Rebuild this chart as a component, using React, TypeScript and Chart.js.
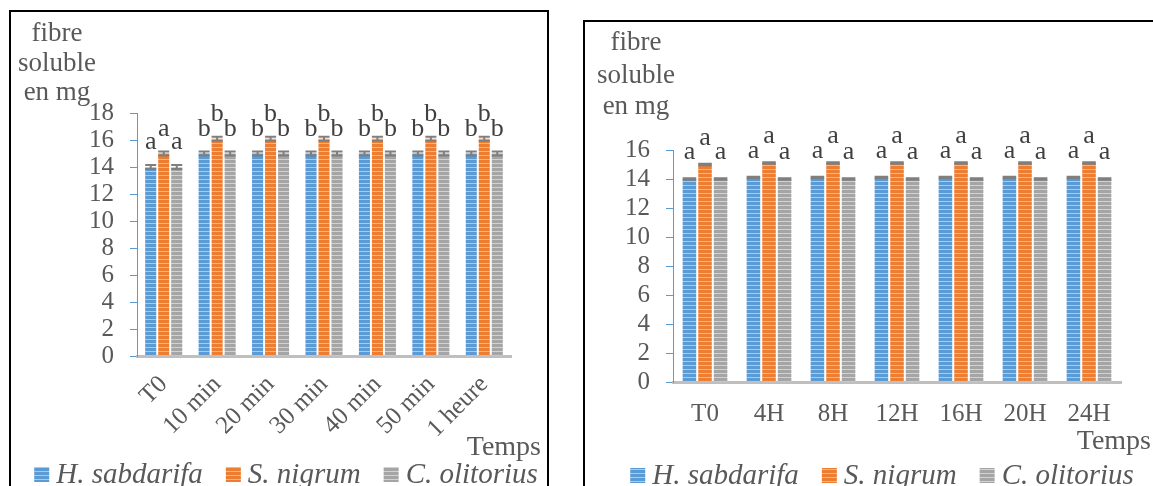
import React, { useEffect, useRef } from "react";
import { Chart, registerables } from "chart.js";

Chart.register(...registerables);

// ---------- shared ----------
const seriesNames = ["H. sabdarifa", "S. nigrum", "C. olitorius"];
const seriesColors = ["#5B9BD5", "#ED7D31", "#A5A5A5"];
const seriesLight = ["#A9CBEA", "#F5B58C", "#D2D2D2"];
const FONT = "'Liberation Serif', 'Times New Roman', serif";
const TEXT = "#595959";
const ERR_COLOR = "#7F7F7F";

// ---------- left chart (minutes) ----------
const catsA = ["T0", "10 min", "20 min", "30 min", "40 min", "50 min", "1 heure"];
const hsA = [14.0, 15.0, 15.0, 15.0, 15.0, 15.0, 15.0];
const snA = [15.0, 16.1, 16.1, 16.1, 16.1, 16.1, 16.1];
const coA = [14.0, 15.0, 15.0, 15.0, 15.0, 15.0, 15.0];
const hsErrA = [0.15, 0.15, 0.15, 0.15, 0.15, 0.15, 0.15];
const snErrA = [0.15, 0.15, 0.15, 0.15, 0.15, 0.15, 0.15];
const coErrA = [0.15, 0.15, 0.15, 0.15, 0.15, 0.15, 0.15];
const hsLetA = ["a", "b", "b", "b", "b", "b", "b"];
const snLetA = ["a", "b", "b", "b", "b", "b", "b"];
const coLetA = ["a", "b", "b", "b", "b", "b", "b"];
const yMaxA = 18;

// ---------- right chart (hours) ----------
const catsB = ["T0", "4H", "8H", "12H", "16H", "20H", "24H"];
const hsB = [14.0, 14.1, 14.1, 14.1, 14.1, 14.1, 14.1];
const snB = [15.0, 15.1, 15.1, 15.1, 15.1, 15.1, 15.1];
const coB = [14.0, 14.0, 14.0, 14.0, 14.0, 14.0, 14.0];
const hsErrB = [0.05, 0.05, 0.05, 0.05, 0.05, 0.05, 0.05];
const snErrB = [0.05, 0.05, 0.05, 0.05, 0.05, 0.05, 0.05];
const coErrB = [0.05, 0.05, 0.05, 0.05, 0.05, 0.05, 0.05];
const hsLetB = ["a", "a", "a", "a", "a", "a", "a"];
const snLetB = ["a", "a", "a", "a", "a", "a", "a"];
const coLetB = ["a", "a", "a", "a", "a", "a", "a"];
const yMaxB = 16;

const yTitle = ["fibre", "soluble", "en mg"];
const xTitle = "Temps";

function makePattern(color: string, light: string): CanvasPattern | string {
  const c = document.createElement("canvas");
  c.width = 4;
  c.height = 4;
  const g = c.getContext("2d");
  if (!g) return color;
  g.fillStyle = color;
  g.fillRect(0, 0, 4, 4);
  g.fillStyle = light;
  g.fillRect(0, 3, 4, 1);
  return g.createPattern(c, "repeat") || color;
}

type Layout = {
  width: number;
  height: number;
  padLeft: number;
  padRight: number;
  padTop: number;
  yWidth: number;
  xHeight: number;
  rotate: boolean;
  xPad: number;
  tickFont: number;
  catPct: number;
  barPct: number;
  letterOffset: number;
  titleX: number;
  titleY: number[];
  tempsRight: number;
  tempsY: number;
  legendCenter: number;
  legendY: number;
};

type Spec = {
  cats: string[];
  values: number[][];
  errors: number[][];
  letters: string[][];
  yMax: number;
  layout: Layout;
};

function overlay(spec: Spec, patterns: (CanvasPattern | string)[]) {
  return {
    id: "overlay",
    afterDatasetsDraw(chart: any) {
      const ctx: CanvasRenderingContext2D = chart.ctx;
      const y = chart.scales.y;
      ctx.save();
      chart.data.datasets.forEach((ds: any, i: number) => {
        const meta = chart.getDatasetMeta(i);
        meta.data.forEach((bar: any, j: number) => {
          const v = ds.data[j] as number;
          const e = spec.errors[i][j];
          const w = bar.width;
          const x = bar.x;
          const yt = y.getPixelForValue(v + e);
          const yb = y.getPixelForValue(v - e);
          ctx.strokeStyle = ERR_COLOR;
          ctx.lineWidth = 2;
          ctx.beginPath();
          ctx.moveTo(x - w / 2, yt);
          ctx.lineTo(x + w / 2, yt);
          ctx.moveTo(x - w / 2, yb);
          ctx.lineTo(x + w / 2, yb);
          ctx.moveTo(x, yt);
          ctx.lineTo(x, yb);
          ctx.stroke();
          ctx.fillStyle = "#404040";
          ctx.font = `26px ${FONT}`;
          ctx.textAlign = "center";
          ctx.textBaseline = "alphabetic";
          ctx.fillText(spec.letters[i][j], x, y.getPixelForValue(v) - spec.layout.letterOffset);
        });
      });
      ctx.restore();
    },
    afterDraw(chart: any) {
      const ctx: CanvasRenderingContext2D = chart.ctx;
      const L = spec.layout;
      ctx.save();
      ctx.fillStyle = TEXT;
      ctx.textBaseline = "alphabetic";
      // y title
      ctx.font = `27px ${FONT}`;
      ctx.textAlign = "center";
      yTitle.forEach((t, k) => ctx.fillText(t, L.titleX, L.titleY[k]));
      // x title
      ctx.font = `28px ${FONT}`;
      ctx.textAlign = "right";
      ctx.fillText(xTitle, L.tempsRight, L.tempsY);
      // legend
      ctx.font = `italic 29px ${FONT}`;
      ctx.textAlign = "left";
      const box = 15;
      const gapIn = 7;
      const gapOut = 23;
      const widths = seriesNames.map((n) => ctx.measureText(n).width);
      const total =
        widths.reduce((a, b) => a + b, 0) + seriesNames.length * (box + gapIn) + (seriesNames.length - 1) * gapOut;
      let cx = L.legendCenter - total / 2;
      seriesNames.forEach((n, k) => {
        ctx.fillStyle = patterns[k] as any;
        ctx.fillRect(cx, L.legendY - box - 1, box, box);
        cx += box + gapIn;
        ctx.fillStyle = TEXT;
        ctx.fillText(n, cx, L.legendY);
        cx += widths[k] + gapOut;
      });
      ctx.restore();
    },
  };
}

function BarChart({ spec }: { spec: Spec }) {
  const ref = useRef<HTMLCanvasElement | null>(null);
  useEffect(() => {
    if (!ref.current) return;
    const L = spec.layout;
    const patterns = seriesColors.map((c, i) => makePattern(c, seriesLight[i]));
    const chart = new Chart(ref.current, {
      type: "bar",
      data: {
        labels: spec.cats,
        datasets: spec.values.map((vals, i) => ({
          label: seriesNames[i],
          data: vals,
          backgroundColor: patterns[i] as any,
          borderWidth: 0,
          categoryPercentage: L.catPct,
          barPercentage: L.barPct,
        })),
      },
      options: {
        responsive: false,
        animation: false,
        devicePixelRatio: 1,
        layout: { padding: { left: L.padLeft, right: L.padRight, top: L.padTop, bottom: 0 } },
        plugins: { legend: { display: false }, tooltip: { enabled: false }, title: { display: false } },
        scales: {
          x: {
            grid: { display: false, drawTicks: false },
            border: { display: true, color: "#BFBFBF", width: 3 },
            ticks: {
              color: TEXT,
              font: { family: FONT, size: L.tickFont },
              minRotation: L.rotate ? 45 : 0,
              maxRotation: L.rotate ? 45 : 0,
              autoSkip: false,
              padding: L.xPad,
            },
            afterFit: (s: any) => {
              s.height = L.xHeight;
            },
          },
          y: {
            min: 0,
            max: spec.yMax,
            grid: { display: true, drawOnChartArea: false, drawTicks: true, tickLength: 7, color: "#5B9BD5", lineWidth: 1 },
            border: { display: true, color: "#5B9BD5", width: 1 },
            ticks: { stepSize: 2, autoSkip: false, color: TEXT, font: { family: FONT, size: L.tickFont }, padding: 16 },
            afterFit: (s: any) => {
              s.width = L.yWidth;
            },
          },
        },
      },
      plugins: [overlay(spec, patterns) as any],
    });
    return () => chart.destroy();
  }, [spec]);
  return <canvas ref={ref} width={spec.layout.width} height={spec.layout.height} style={{ display: "block", width: spec.layout.width, height: spec.layout.height }} />;
}

const specA: Spec = {
  cats: catsA,
  values: [hsA, snA, coA],
  errors: [hsErrA, snErrA, coErrA],
  letters: [hsLetA, snLetA, coLetA],
  yMax: yMaxA,
  layout: {
    width: 537,
    height: 474,
    padLeft: 66,
    padRight: 537 - 500,
    padTop: 101,
    yWidth: 60,
    xHeight: 130,
    rotate: true,
    xPad: 14,
    tickFont: 25,
    catPct: 0.73,
    barPct: 0.85,
    letterOffset: 18,
    titleX: 46,
    titleY: [29, 59, 88],
    tempsRight: 530,
    tempsY: 443,
    legendCenter: 275,
    legendY: 471,
  },
};

const specB: Spec = {
  cats: catsB,
  values: [hsB, snB, coB],
  errors: [hsErrB, snErrB, coErrB],
  letters: [hsLetB, snLetB, coLetB],
  yMax: yMaxB,
  layout: {
    width: 600,
    height: 464,
    padLeft: 38,
    padRight: 600 - 536,
    padTop: 128,
    yWidth: 50,
    xHeight: 104,
    rotate: false,
    xPad: 17,
    tickFont: 25,
    catPct: 0.73,
    barPct: 0.87,
    letterOffset: 20,
    titleX: 51,
    titleY: [28, 61, 92],
    tempsRight: 566,
    tempsY: 427,
    legendCenter: 297,
    legendY: 462,
  },
};

export default function App() {
  return (
    <div style={{ position: "fixed", left: 0, top: 0, width: 1153, height: 486, overflow: "hidden", background: "#fff" }}>
      <div style={{ position: "absolute", left: 9, top: 10, width: 540, height: 600, border: "2px solid #000", boxSizing: "border-box" }}>
        <BarChart spec={specA} />
      </div>
      <div style={{ position: "absolute", left: 583, top: 20, width: 640, height: 600, border: "2px solid #000", boxSizing: "border-box" }}>
        <BarChart spec={specB} />
      </div>
    </div>
  );
}
